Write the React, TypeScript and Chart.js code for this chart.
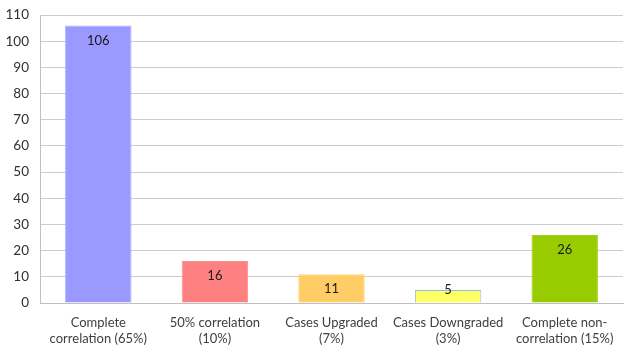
import React, { useEffect, useRef } from "react";
import { Chart, registerables } from "chart.js";

Chart.register(...registerables);

const categories: string[][] = [
  ["Complete", "correlation (65%)"],
  ["50% correlation", "(10%)"],
  ["Cases Upgraded", "(7%)"],
  ["Cases Downgraded", "(3%)"],
  ["Complete non-", "correlation (15%)"],
];
const values: number[] = [106, 16, 11, 5, 26];
const fillColors: string[] = ["#9999FF", "#FF8080", "#FFCC66", "#FFFF66", "#99CC00"];
const edgeColors: string[] = ["#aab0ff", "#ff9090", "#ffd070", "#95b8e0", "#a3d11a"];
const yMin = 0;
const yMax = 110;
const yStep = 10;

const FONT = "Lato, 'Liberation Sans', sans-serif";

const valueLabels = {
  id: "valueLabels",
  afterDatasetsDraw(chart: any) {
    const ctx = chart.ctx;
    const meta = chart.getDatasetMeta(0);
    ctx.save();
    ctx.font = `13px ${FONT}`;
    ctx.fillStyle = "#1a1a1a";
    ctx.textAlign = "center";
    ctx.textBaseline = "middle";
    meta.data.forEach((bar: any, i: number) => {
      const h = bar.base - bar.y;
      const y = h >= 20 ? bar.y + 15 : bar.y;
      ctx.fillText(String(values[i]), bar.x, y);
    });
    ctx.restore();
  },
};

export default function App() {
  const ref = useRef<HTMLCanvasElement | null>(null);
  useEffect(() => {
    if (!ref.current) return;
    const chart = new Chart(ref.current, {
      type: "bar",
      data: {
        labels: categories,
        datasets: [
          {
            data: values,
            backgroundColor: fillColors,
            borderColor: edgeColors,
            borderWidth: 1,
            barPercentage: 0.57,
            categoryPercentage: 1,
          },
        ],
      },
      options: {
        animation: false,
        responsive: false,
        maintainAspectRatio: false,
        layout: { padding: { top: 15, right: 5, left: 0, bottom: 0 } },
        plugins: { legend: { display: false }, tooltip: { enabled: false } },
        scales: {
          x: {
            grid: { display: false, drawTicks: false },
            border: { color: "#c0c0c0", width: 1 },
            ticks: {
              color: "#404040",
              font: { family: FONT, size: 13 },
              padding: 12,
              maxRotation: 0,
              autoSkip: false,
            },
            afterFit: (s: any) => {
              s.height = 57;
              s.paddingLeft = 0;
              s.paddingRight = 0;
            },
          },
          y: {
            min: yMin,
            max: yMax,
            grid: { color: "#cccccc", drawTicks: false, lineWidth: 1 },
            border: { color: "#c0c0c0", width: 1 },
            ticks: {
              stepSize: yStep,
              color: "#303030",
              font: { family: FONT, size: 13.5 },
              padding: 11,
            },
            afterFit: (s: any) => {
              s.width = 40;
              s.paddingTop = 0;
              s.paddingBottom = 0;
            },
          },
        },
      },
      plugins: [valueLabels],
    });
    return () => chart.destroy();
  }, []);
  return (
    <div style={{ position: "fixed", left: 0, top: 0, width: 628, height: 360, background: "#fff" }}>
      <canvas ref={ref} width={628} height={360} style={{ width: 628, height: 360 }} />
    </div>
  );
}
